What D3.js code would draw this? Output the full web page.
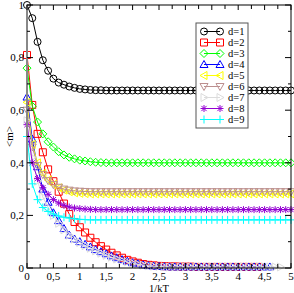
<!DOCTYPE html>
<html><head><meta charset="utf-8">
<script src="https://d3js.org/d3.v7.min.js"></script>
<style>body{margin:0;background:#fff}svg{display:block}text{font-family:"Liberation Serif","Times New Roman",serif;fill:#000}</style>
</head><body><svg id="c" width="294" height="293"></svg>
<script>
const xs = [0,0.1,0.2,0.3,0.4,0.5,0.6,0.7,0.8,0.9,1,1.1,1.2,1.3,1.4,1.5,1.6,1.7,1.8,1.9,2,2.1,2.2,2.3,2.4,2.5,2.6,2.7,2.8,2.9,3,3.1,3.2,3.3,3.4,3.5,3.6,3.7,3.8,3.9,4,4.1,4.2,4.3,4.4,4.5,4.6,4.7,4.8,4.9,5];
const labels = ["d=1","d=2","d=3","d=4","d=5","d=6","d=7","d=8","d=9"];
const d1 = [1.0,0.95,0.86,0.79,0.75,0.72,0.705,0.697,0.69,0.685,0.681,0.679,0.677,0.676,0.676,0.675,0.675,0.675,0.675,0.675,0.675,0.675,0.675,0.675,0.675,0.675,0.675,0.675,0.675,0.675,0.675,0.675,0.675,0.675,0.675,0.675,0.675,0.675,0.675,0.675,0.675,0.675,0.675,0.675,0.675,0.675,0.675,0.675,0.675,0.675,0.675];
const d2 = [0.81,0.62,0.51,0.44,0.375,0.33,0.29,0.245,0.205,0.175,0.155,0.135,0.115,0.098,0.083,0.07,0.058,0.048,0.039,0.031,0.025,0.02,0.015,0.012,0.01,0.008,0.007,0.006,0.006,0.005,0.005,0.005,0.004,0.004,0.004,0.004,0.004,0.004,0.004,0.004,0.004,0.004,0.004,0.004,0.004];
const d3v = [0.76,0.615,0.555,0.51,0.48,0.46,0.442,0.43,0.421,0.415,0.41,0.407,0.404,0.402,0.401,0.4,0.4,0.4,0.4,0.4,0.4,0.4,0.4,0.4,0.4,0.4,0.4,0.4,0.4,0.4,0.4,0.4,0.4,0.4,0.4,0.4,0.4,0.4,0.4,0.4,0.4,0.4,0.4,0.4,0.4,0.4,0.4,0.4,0.4,0.4,0.4];
const d4 = [0.65,0.49,0.385,0.3,0.25,0.21,0.18,0.15,0.125,0.11,0.1,0.09,0.08,0.07,0.062,0.054,0.046,0.039,0.032,0.026,0.02,0.016,0.012,0.009,0.007,0.006,0.005,0.004,0.004,0.004,0.004,0.004,0.004,0.004,0.004,0.004,0.004,0.004,0.004,0.004,0.004,0.004,0.004,0.004,0.004,0.004,0.004];
const d5 = [0.63,0.47,0.4,0.36,0.335,0.318,0.305,0.296,0.29,0.286,0.284,0.283,0.282,0.282,0.282,0.282,0.282,0.282,0.282,0.282,0.282,0.282,0.282,0.282,0.282,0.282,0.282,0.282,0.282,0.282,0.282,0.282,0.282,0.282,0.282,0.282,0.282,0.282,0.282,0.282,0.282,0.282,0.282,0.282,0.282,0.282,0.282,0.282,0.282,0.282,0.282];
const d6 = [0.6,0.46,0.39,0.355,0.332,0.317,0.307,0.3,0.296,0.293,0.292,0.291,0.29,0.29,0.29,0.29,0.29,0.29,0.29,0.29,0.29,0.29,0.29,0.29,0.29,0.29,0.29,0.29,0.29,0.29,0.29,0.29,0.29,0.29,0.29,0.29,0.29,0.29,0.29,0.29,0.29,0.29,0.29,0.29,0.29,0.29,0.29,0.29,0.29,0.29,0.29];
const d7 = [0.56,0.42,0.33,0.27,0.23,0.2,0.17,0.145,0.125,0.11,0.097,0.085,0.075,0.065,0.056,0.048,0.041,0.034,0.028,0.023,0.018,0.014,0.011,0.009,0.007,0.006,0.005,0.004,0.004,0.004,0.004,0.004,0.004,0.004,0.004,0.004,0.004,0.004,0.004,0.004,0.004,0.004,0.004,0.004,0.004,0.004,0.004,0.004,0.004];
const d8 = [0.545,0.4,0.34,0.305,0.28,0.26,0.247,0.238,0.232,0.228,0.226,0.224,0.223,0.222,0.222,0.222,0.222,0.222,0.222,0.222,0.222,0.222,0.222,0.222,0.222,0.222,0.222,0.222,0.222,0.222,0.222,0.222,0.222,0.222,0.222,0.222,0.222,0.222,0.222,0.222,0.222,0.222,0.222,0.222,0.222,0.222,0.222,0.222,0.222,0.222,0.222];
const d9 = [0.5,0.32,0.26,0.23,0.215,0.205,0.198,0.193,0.19,0.187,0.185,0.184,0.183,0.183,0.183,0.183,0.183,0.183,0.183,0.183,0.183,0.183,0.183,0.183,0.183,0.183,0.183,0.183,0.183,0.183,0.183,0.183,0.183,0.183,0.183,0.183,0.183,0.183,0.183,0.183,0.183,0.183,0.183,0.183,0.183,0.183,0.183,0.183,0.183,0.183,0.183];
const xTicks = [0,0.5,1,1.5,2,2.5,3,3.5,4,4.5,5];
const yTicks = [0,0.2,0.4,0.6,0.8,1];

const seriesVals = [d1,d2,d3v,d4,d5,d6,d7,d8,d9];
const colors = ["#000000","#ff0000","#00ff00","#0000ff","#ffff00","#bc8f8f","#dcdcdc","#9400d3","#00ffff"];
const symbols = ["circle","square","diamond","up","left","down","right","star","plus"];

const L=27,R=291,T=5,B=268;
const x = d3.scaleLinear().domain([0,5]).range([L,R]);
const y = d3.scaleLinear().domain([0,1]).range([B,T]);
const svg = d3.select("#c");
const fmt = v => String(v).replace(".", ",");

function sym(g, type, cx, cy, col){
  if(type==="circle"){g.append("circle").attr("cx",cx).attr("cy",cy).attr("r",3.5).attr("fill","none").attr("stroke",col);return;}
  const P = {
    square:"M-3.5,-3.5H3.5V3.5H-3.5Z",
    diamond:"M0,-4L4,0L0,4L-4,0Z",
    up:"M0,-4L4,3L-4,3Z",
    left:"M-4,0L3,-4L3,4Z",
    down:"M0,4L4,-3L-4,-3Z",
    right:"M4,0L-3,-4L-3,4Z",
    star:"M-3.5,0H3.5M0,-3.5V3.5M-2.6,-2.6L2.6,2.6M-2.6,2.6L2.6,-2.6",
    plus:"M-4,0H4M0,-4V4"
  }[type];
  g.append("path").attr("d",P).attr("transform",`translate(${cx},${cy})`).attr("fill","none").attr("stroke",col).attr("stroke-width",1);
}

const line = d3.line().x(d=>x(d[0])).y(d=>y(d[1]));
seriesVals.forEach((vals,i)=>{
  const pts = vals.map((v,j)=>[xs[j],v]);
  const g = svg.append("g");
  g.append("path").attr("d",line(pts)).attr("fill","none").attr("stroke",colors[i]).attr("stroke-width",1);
  pts.forEach(p=>sym(g,symbols[i],x(p[0]),y(p[1]),colors[i]));
});

const ax = svg.append("g");
ax.append("rect").attr("x",L).attr("y",T).attr("width",R-L).attr("height",B-T).attr("fill","none").attr("stroke","#000").attr("stroke-width",1);
ax.append("line").attr("x1",L).attr("x2",L).attr("y1",T).attr("y2",B).attr("stroke","#888").attr("stroke-width",2);

const xMinor = d3.range(0,5.001,0.25);
xMinor.forEach(v=>{
  const major = xTicks.some(t=>Math.abs(t-v)<1e-9);
  const len = major?5:4;
  ax.append("line").attr("x1",x(v)).attr("x2",x(v)).attr("y1",B).attr("y2",B-len).attr("stroke","#000");
  ax.append("line").attr("x1",x(v)).attr("x2",x(v)).attr("y1",T).attr("y2",T+len).attr("stroke","#000");
});
const yMinor = d3.range(0,1.001,0.1);
yMinor.forEach(v=>{
  const major = yTicks.some(t=>Math.abs(t-v)<1e-9);
  const len = major?6:3;
  ax.append("line").attr("x1",L).attr("x2",L+len).attr("y1",y(v)).attr("y2",y(v)).attr("stroke","#000");
  ax.append("line").attr("x1",R).attr("x2",R-len).attr("y1",y(v)).attr("y2",y(v)).attr("stroke","#000");
});
xTicks.forEach(v=>{
  ax.append("text").attr("x",x(v)).attr("y",279.5).attr("text-anchor","middle").attr("font-size",11).text(fmt(v));
});
yTicks.forEach(v=>{
  ax.append("text").attr("x",L-3).attr("y",y(v)).attr("dy","0.35em").attr("text-anchor","end").attr("font-size",11).text(fmt(v));
});
ax.append("text").attr("x",(L+R)/2).attr("y",292).attr("text-anchor","middle").attr("font-size",10.5).text("1/kT");
ax.append("text").attr("transform",`translate(13,${(T+B)/2}) rotate(-90)`).attr("text-anchor","middle").attr("font-size",11).text("<m>");

const lg = svg.append("g");
lg.append("rect").attr("x",196).attr("y",23).attr("width",52).attr("height",105).attr("fill","#fff").attr("stroke","#555").attr("stroke-width",1);
labels.forEach((lab,i)=>{
  const yy = 31.5 + i*11;
  lg.append("line").attr("x1",204).attr("x2",220).attr("y1",yy).attr("y2",yy).attr("stroke",colors[i]);
  sym(lg,symbols[i],204,yy,colors[i]);
  sym(lg,symbols[i],220,yy,colors[i]);
  lg.append("text").attr("x",228).attr("y",yy+3.5).attr("font-size",10.5).text(lab);
});
</script></body></html>
